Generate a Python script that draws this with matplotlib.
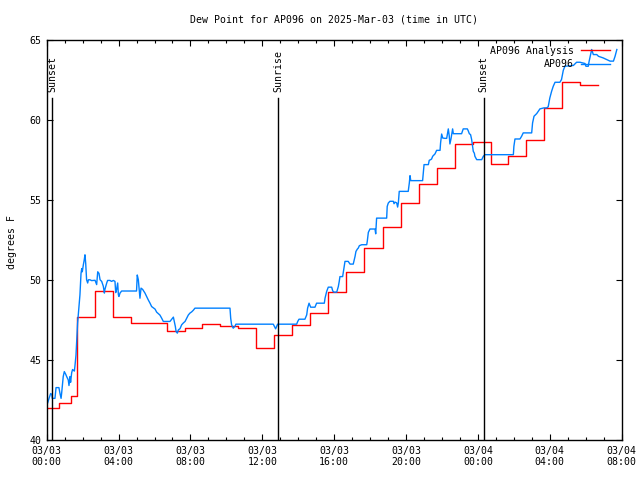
import matplotlib
matplotlib.use("Agg")
import matplotlib.pyplot as plt
import numpy as np
from matplotlib.ticker import FixedLocator, MultipleLocator

# ---- data (hours since 03/03 00:00 UTC) ----
obs_hours = [0.00, 0.05, 0.13, 0.22, 0.28, 0.31, 0.46, 0.52, 0.68, 0.74, 0.80, 0.83, 0.92, 0.98,
             1.06, 1.11, 1.20, 1.24, 1.30, 1.33, 1.39, 1.44, 1.54, 1.57, 1.63, 1.67, 1.72, 1.80,
             1.85, 1.91, 1.95, 1.98, 2.04, 2.09, 2.13, 2.17, 2.22, 2.28, 2.32, 2.41, 2.50, 2.69,
             2.78, 2.84, 2.91, 2.97, 3.06, 3.15, 3.21, 3.24, 3.34, 3.39, 3.52, 3.61, 3.71, 3.80,
             3.84, 3.89, 3.95, 3.99, 4.02, 4.08, 4.17, 5.00, 5.04, 5.10, 5.19, 5.25, 5.34, 5.47,
             5.56, 5.65, 5.75, 5.84, 6.03, 6.12, 6.30, 6.40, 6.49, 6.86, 6.96, 7.05, 7.10, 7.16,
             7.20, 7.27, 7.33, 7.42, 7.51, 7.60, 7.70, 7.79, 7.88, 7.97, 8.07, 8.16, 8.25, 10.20,
             10.24, 10.29, 10.38, 10.48, 10.53, 12.61, 12.67, 12.74, 12.80, 12.85, 13.91, 13.97,
             14.04, 14.37, 14.47, 14.52, 14.60, 14.69, 14.93, 15.02, 15.45, 15.49, 15.58, 15.67,
             15.86, 15.92, 15.99, 16.14, 16.23, 16.28, 16.32, 16.47, 16.54, 16.60, 16.78, 16.88,
             17.06, 17.16, 17.21, 17.29, 17.34, 17.40, 17.53, 17.81, 17.84, 17.90, 17.99, 18.27,
             18.31, 18.36, 18.92, 18.95, 19.01, 19.10, 19.29, 19.33, 19.38, 19.48, 19.53, 19.57,
             19.62, 20.12, 20.18, 20.22, 20.26, 20.92, 20.96, 21.00, 21.24, 21.29, 21.37, 21.42,
             21.48, 21.61, 21.70, 21.89, 21.92, 21.98, 22.04, 22.16, 22.26, 22.31, 22.35, 22.40,
             22.44, 22.50, 22.59, 22.63, 23.09, 23.18, 23.41, 23.46, 23.52, 23.59, 23.65, 23.74,
             23.80, 23.83, 23.93, 24.21, 24.30, 24.39, 25.97, 26.00, 26.06, 26.34, 26.43, 26.52,
             26.99, 27.04, 27.12, 27.27, 27.45, 27.67, 27.82, 27.91, 28.00, 28.10, 28.19, 28.29,
             28.56, 28.65, 28.75, 28.84, 29.31, 29.49, 29.68, 29.96, 30.01, 30.14, 30.18, 30.33,
             30.42, 30.61, 30.71, 30.97, 31.35, 31.54, 31.63, 31.73]
obs_dewpt = [42.4, 42.3, 42.6, 42.9, 42.85, 42.6, 42.6, 43.27, 43.27, 42.9, 42.6, 42.9, 43.96, 44.27,
             44.1, 43.96, 43.75, 43.4, 43.96, 43.6, 44.2, 44.4, 44.3, 44.6, 45.3, 46.25, 47.3, 48.4,
             49.06, 50.4, 50.7, 50.5, 50.94, 51.25, 51.56, 51.04, 50.0, 49.8, 50.0, 50.0, 49.95, 49.97,
             49.7, 50.5, 50.4, 50.0, 49.9, 49.6, 49.17, 49.4, 49.8, 49.96, 49.96, 49.9, 49.96, 49.9,
             49.2, 49.4, 49.8, 49.06, 48.96, 49.17, 49.3, 49.3, 50.3, 50.0, 48.85, 49.48, 49.4, 49.17,
             48.96, 48.75, 48.54, 48.33, 48.17, 47.98, 47.8, 47.6, 47.4, 47.4, 47.54, 47.67, 47.4, 47.08,
             46.77, 46.67, 46.875, 46.95, 47.19, 47.3, 47.4, 47.6, 47.8, 47.92, 48.0, 48.1, 48.23, 48.23,
             47.6, 47.19, 46.98, 47.1, 47.23, 47.23, 47.1, 46.94, 47.1, 47.23, 47.23, 47.4,
             47.54, 47.54, 47.81, 48.23, 48.54, 48.29, 48.29, 48.54, 48.54, 48.85, 49.27, 49.54,
             49.54, 49.3, 49.23, 49.23, 49.58, 49.9, 50.2, 50.2, 50.73, 51.15, 51.15, 50.98,
             50.98, 51.46, 51.77, 51.92, 51.98, 52.13, 52.19, 52.19, 52.4, 52.96, 53.17, 53.17,
             52.87, 53.85, 53.85, 54.58, 54.79, 54.9, 54.9, 54.75, 54.85, 54.8, 54.54, 54.8,
             55.52, 55.52, 56.04, 56.5, 56.19, 56.19, 56.67, 57.19, 57.19, 57.46, 57.5, 57.54,
             57.71, 57.86, 58.08, 58.08, 58.54, 59.1, 58.85, 58.83, 58.83, 59.17, 59.42, 59.0,
             58.48, 58.8, 59.42, 59.12, 59.12, 59.42, 59.42, 59.3, 59.12, 59.06, 58.75, 58.02,
             57.9, 57.71, 57.5, 57.5, 57.71, 57.81, 57.81, 58.33, 58.79, 58.79, 58.96, 59.17,
             59.17, 59.79, 60.21, 60.375, 60.67, 60.73, 60.73, 60.8, 61.35, 61.77, 62.08, 62.33,
             62.33, 62.5, 63.08, 63.33, 63.38, 63.58, 63.58, 63.5, 63.33, 63.33, 63.6, 64.375,
             64.06, 64.06, 63.95, 63.85, 63.65, 63.65, 63.95, 64.375]

ana_hours = [0.0, 0.67, 1.34, 1.67, 2.67, 3.67, 4.67, 6.67, 7.67, 8.67, 9.67, 10.67, 11.67, 12.67,
             13.67, 14.67, 15.67, 16.67, 17.67, 18.7, 19.7, 20.7, 21.7, 22.7, 23.7, 24.7, 25.7,
             26.7, 27.7, 28.7, 29.7, 30.67]
ana_dewpt = [42.0, 42.3, 42.75, 47.7, 49.3, 47.7, 47.3, 46.8, 47.0, 47.25, 47.1, 47.0, 45.75, 46.55,
             47.15, 47.95, 49.25, 50.5, 52.0, 53.3, 54.8, 56.0, 57.0, 58.5, 58.6, 57.25, 57.75,
             58.75, 60.75, 62.35, 62.15, 62.15]

sun_events = ["Sunset", "Sunrise", "Sunset"]
sun_hours = [0.30, 12.88, 24.31]

tick_hours = [0, 4, 8, 12, 16, 20, 24, 28, 32]
tick_labels = ["03/03\n00:00", "03/03\n04:00", "03/03\n08:00", "03/03\n12:00", "03/03\n16:00",
               "03/03\n20:00", "03/04\n00:00", "03/04\n04:00", "03/04\n08:00"]
y_ticks = [40, 45, 50, 55, 60, 65]

title = "Dew Point for AP096 on 2025-Mar-03 (time in UTC)"
ylabel = "degrees F"

# ---- plot ----
FONT = "DejaVu Sans Mono"
FS = 7.1
plt.rcParams['font.family'] = [FONT]
plt.rcParams['font.size'] = FS

fig = plt.figure(figsize=(6.4, 4.8), dpi=100)
W, H = 640, 480
left, right, top, bottom = 46.7, 621.7, 39.5, 440
ax = fig.add_axes([left / W, 1 - bottom / H, (right - left) / W, (bottom - top) / H])

ax.plot(ana_hours, ana_dewpt, drawstyle='steps-post', color='#ff0000', lw=1.0,
        label='AP096 Analysis')
ax.plot(obs_hours, obs_dewpt, color='#0080ff', lw=1.0, label='AP096')

for name, h in zip(sun_events, sun_hours):
    ax.plot([h, h], [40, 61.35], color='black', lw=1.0)
    ax.text(h, 61.7, name, rotation=90, ha='center', va='bottom', fontsize=FS)

ax.set_xlim(0, 32)
ax.set_ylim(40, 65)
ax.xaxis.set_major_locator(FixedLocator(tick_hours))
ax.set_xticklabels(tick_labels)
ax.xaxis.set_minor_locator(MultipleLocator(1))
ax.set_yticks(y_ticks)
ax.set_yticklabels([str(v) for v in y_ticks])
ax.tick_params(axis='both', which='major', direction='in', length=4, width=0.8,
               top=True, right=True, labelsize=FS, pad=4)
ax.tick_params(axis='x', which='minor', direction='in', length=2, width=0.8, top=True)
ax.tick_params(axis='y', which='minor', left=False, right=False)
for s in ax.spines.values():
    s.set_linewidth(1.0)

fig.text((left + right) / 2 / W, 1 - 20 / H, title, ha='center', va='center', fontsize=FS)
fig.text(12 / W, 1 - 242 / H, ylabel, rotation=90, ha='center', va='center', fontsize=FS)

leg = ax.legend(loc='upper right', bbox_to_anchor=(610 / W, 1 - 45.5 / H),
                bbox_transform=fig.transFigure, frameon=False, markerfirst=False,
                handlelength=2.95, handletextpad=0.7, labelspacing=0.4,
                borderpad=0, borderaxespad=0, fontsize=FS)

fig.savefig("out.png", dpi=100)
